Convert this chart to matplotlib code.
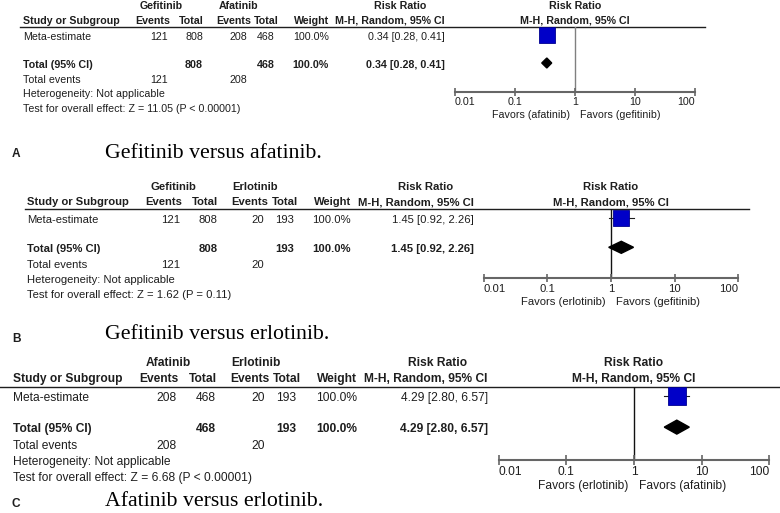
import matplotlib.pyplot as plt
from matplotlib.ticker import FixedLocator, NullLocator

plt.rcParams['font.family'] = ['Liberation Sans', 'DejaVu Sans']

# data, one entry per panel
panel_ids = ['A', 'B', 'C']
group1 = ['Gefitinib', 'Gefitinib', 'Afatinib']
group2 = ['Afatinib', 'Erlotinib', 'Erlotinib']
events1 = [121, 121, 208]
total1 = [808, 808, 468]
events2 = [208, 20, 20]
total2 = [468, 193, 193]
weight = [100.0, 100.0, 100.0]
rr = [0.34, 1.45, 4.29]
ci_lo = [0.28, 0.92, 2.80]
ci_hi = [0.41, 2.26, 6.57]
z_value = ['11.05', '1.62', '6.68']
p_value = ['P < 0.00001', 'P = 0.11', 'P < 0.00001']
favors_left = ['Favors (afatinib)', 'Favors (erlotinib)', 'Favors (erlotinib)']
favors_right = ['Favors (gefitinib)', 'Favors (gefitinib)', 'Favors (afatinib)']
captions = ['Gefitinib versus afatinib.', 'Gefitinib versus erlotinib.',
            'Afatinib versus erlotinib.']
tick_vals = [0.01, 0.1, 1, 10, 100]
tick_text = ['0.01', '0.1', '1', '10', '100']

# layout of each panel (pixels)
x_org = [23, 27, 13]
y_org = [6, 187, 363]
scale = [1.0, 1.058, 1.125]
line_start = [20, 25, 0]
cap_base = [158, 339, 506]
lab_base = [157, 342, 507]
vline_col = ['#808080', '#111111', '#111111']
diamond_h = [5.0, 5.7, 6.2]

W, H = 780, 513
PT = 0.72   # points per pixel at dpi 100
TXT = '#1e1e1e'
GREY = '#666666'

fig = plt.figure(figsize=(7.8, 5.13), dpi=100)
bg = fig.add_axes([0, 0, 1, 1])
bg.set_xlim(0, W)
bg.set_ylim(H, 0)
bg.axis('off')

for i in range(3):
    x0, y0, s = x_org[i], y_org[i], scale[i]
    fs = 7.7 * s

    def X(t):
        return x0 + s * t

    def Y(t):
        return y0 + s * t

    def txt(tx, ty, t, ha='left', bold=False):
        bg.text(X(tx), Y(ty), t, ha=ha, va='center', fontsize=fs,
                fontweight='bold' if bold else 'normal', color=TXT)

    # header rows
    txt(138, 0, group1[i], 'center', True)
    txt(216, 0, group2[i], 'center', True)
    txt(377, 0, 'Risk Ratio', 'center', True)
    txt(0, 14.5, 'Study or Subgroup', bold=True)
    txt(147, 14.5, 'Events', 'right', True)
    txt(181, 14.5, 'Total', 'right', True)
    txt(228, 14.5, 'Events', 'right', True)
    txt(256, 14.5, 'Total', 'right', True)
    txt(306, 14.5, 'Weight', 'right', True)
    txt(422, 14.5, 'M-H, Random, 95% CI', 'right', True)
    bg.plot([line_start[i], min(X(682), W)], [Y(21), Y(21)], color=TXT, lw=1.0)

    ci_str = '%.2f [%.2f, %.2f]' % (rr[i], ci_lo[i], ci_hi[i])
    w_str = '%.1f%%' % weight[i]

    # study row
    txt(0, 31, 'Meta-estimate')
    txt(145, 31, str(events1[i]), 'right')
    txt(180, 31, str(total1[i]), 'right')
    txt(224, 31, str(events2[i]), 'right')
    txt(252, 31, str(total2[i]), 'right')
    txt(306, 31, w_str, 'right')
    txt(422, 31, ci_str, 'right')

    # total row
    txt(0, 58.5, 'Total (95% CI)', bold=True)
    txt(180, 58.5, str(total1[i]), 'right', True)
    txt(252, 58.5, str(total2[i]), 'right', True)
    txt(306, 58.5, w_str, 'right', True)
    txt(422, 58.5, ci_str, 'right', True)
    txt(0, 74, 'Total events')
    txt(145, 74, str(events1[i]), 'right')
    txt(224, 74, str(events2[i]), 'right')
    txt(0, 88, 'Heterogeneity: Not applicable')
    txt(0, 102.5, 'Test for overall effect: Z = %s (%s)' % (z_value[i], p_value[i]))

    # caption
    bg.text(12, lab_base[i], panel_ids[i], fontsize=8.6, fontweight='bold',
            color=TXT, va='baseline')
    bg.text(105, cap_base[i], captions[i], family='Liberation Serif',
            fontsize=15.7, color='black', va='baseline')

    # forest plot
    xl, xr, yt, yb = X(431.7), X(672.3), Y(21), Y(86)
    ax = fig.add_axes([xl / W, 1 - yb / H, (xr - xl) / W, (yb - yt) / H])
    ax.set_xscale('log')
    ax.set_xlim(0.01, 100)
    ax.set_ylim((86 - 29) / 28, (21 - 29) / 28)
    ax.patch.set_visible(False)
    for side in ['top', 'left', 'right']:
        ax.spines[side].set_visible(False)
    ax.spines['bottom'].set_color(GREY)
    ax.spines['bottom'].set_linewidth(1.5)
    ax.set_yticks([])
    ax.xaxis.set_major_locator(FixedLocator(tick_vals))
    ax.xaxis.set_minor_locator(NullLocator())
    ax.set_xticklabels(tick_text)
    ax.tick_params(axis='x', direction='inout', length=6 * s, width=1.2,
                   color=GREY, labelsize=fs, labelcolor=TXT, pad=0.8 * s)
    labels = ax.get_xticklabels()
    labels[0].set_ha('left')
    labels[-1].set_ha('right')

    ax.axvline(1, color=vline_col[i], lw=1.0, zorder=1)
    ax.plot([ci_lo[i], ci_hi[i]], [0, 0], color=TXT, lw=0.8, zorder=2)
    ax.plot([rr[i]], [0], marker='s', ms=16 * s * PT, mfc='#0000c8',
            mec='#000090', mew=0.6, zorder=3)
    h = diamond_h[i] / 28
    ax.fill([ci_lo[i], rr[i], ci_hi[i], rr[i]], [1, 1 - h, 1, 1 + h],
            color='black', zorder=3)

    ax.annotate('Risk Ratio', xy=(1, 1), xycoords=('data', 'axes fraction'),
                xytext=(0, 21 * s * PT), textcoords='offset points',
                ha='center', va='center', fontsize=fs, fontweight='bold', color=TXT)
    ax.annotate('M-H, Random, 95% CI', xy=(1, 1), xycoords=('data', 'axes fraction'),
                xytext=(0, 6.5 * s * PT), textcoords='offset points',
                ha='center', va='center', fontsize=fs, fontweight='bold', color=TXT)
    ax.annotate(favors_left[i], xy=(1, 0), xycoords=('data', 'axes fraction'),
                xytext=(-4.7 * s * PT, -23 * s * PT), textcoords='offset points',
                ha='right', va='center', fontsize=fs, color=TXT)
    ax.annotate(favors_right[i], xy=(1, 0), xycoords=('data', 'axes fraction'),
                xytext=(4.7 * s * PT, -23 * s * PT), textcoords='offset points',
                ha='left', va='center', fontsize=fs, color=TXT)

fig.savefig('out.png', dpi=100)
